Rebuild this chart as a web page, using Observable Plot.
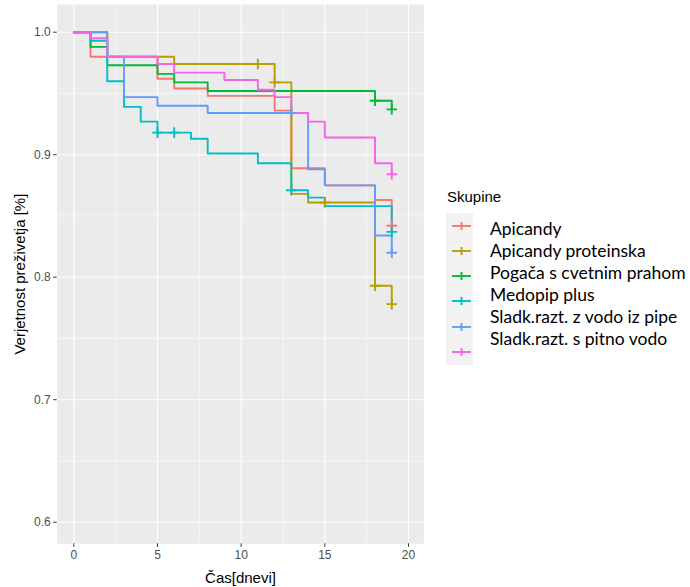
<!DOCTYPE html>
<html><head><meta charset="utf-8">
<script src="https://cdn.jsdelivr.net/npm/d3@7"></script>
<script src="https://cdn.jsdelivr.net/npm/@observablehq/plot@0.6"></script>
<style>
body{margin:0;background:#fff;}
#wrap{position:relative;width:690px;height:587px;overflow:hidden;background:#fff;}
#wrap svg{position:absolute;left:0;top:0;}
.lg{position:absolute;white-space:nowrap;}
</style></head><body><div id="wrap"></div>
<script>
// ---- data ----
const groups = ["Apicandy", "Apicandy proteinska", "Pogača s cvetnim prahom", "Medopip plus", "Sladk.razt. z vodo iz pipe", "Sladk.razt. s pitno vodo"];
const colors = ["#F8766D", "#B79F00", "#00BA38", "#00BFC4", "#619CFF", "#F564E3"];

const timesApicandy = [0, 1, 5, 6, 8, 12, 13, 15, 18, 19];
const survApicandy  = [1, 0.980, 0.962, 0.954, 0.948, 0.936, 0.889, 0.875, 0.863, 0.842];
const censorTimesApicandy = [19];
const censorSurvApicandy  = [0.842];

const timesProteinska = [0, 2, 6, 12, 13, 14, 18, 19];
const survProteinska  = [1, 0.980, 0.974, 0.959, 0.868, 0.861, 0.793, 0.778];
const censorTimesProteinska = [11, 12, 15, 18, 19];
const censorSurvProteinska  = [0.974, 0.959, 0.861, 0.793, 0.778];

const timesPogaca = [0, 1, 2, 5, 6, 8, 18, 19];
const survPogaca  = [1, 0.988, 0.973, 0.966, 0.959, 0.952, 0.944, 0.937];
const censorTimesPogaca = [18, 19];
const censorSurvPogaca  = [0.944, 0.937];

const timesMedopip = [0, 1, 2, 3, 4, 5, 7, 8, 11, 13, 14, 15, 19];
const survMedopip  = [1, 0.993, 0.960, 0.939, 0.927, 0.918, 0.913, 0.901, 0.893, 0.871, 0.865, 0.858, 0.837];
const censorTimesMedopip = [5, 6, 13, 19];
const censorSurvMedopip  = [0.918, 0.918, 0.871, 0.837];

const timesPipe = [0, 2, 3, 5, 8, 14, 15, 18, 19];
const survPipe  = [1, 0.980, 0.947, 0.940, 0.934, 0.888, 0.875, 0.834, 0.820];
const censorTimesPipe = [13, 19];
const censorSurvPipe  = [0.934, 0.820];

const timesPitna = [0, 1, 2, 5, 6, 9, 11, 12, 13, 14, 15, 18, 19];
const survPitna  = [1, 0.995, 0.980, 0.974, 0.967, 0.961, 0.953, 0.947, 0.934, 0.927, 0.914, 0.893, 0.884];
const censorTimesPitna = [19];
const censorSurvPitna  = [0.884];

const xTicks = [0, 5, 10, 15, 20];
const xMinor = [2.5, 7.5, 12.5, 17.5];
const yTicks = [0.6, 0.7, 0.8, 0.9, 1.0];
const yMinor = [0.65, 0.75, 0.85, 0.95];
const xTitle = "Čas[dnevi]";
const yTitle = "Verjetnost preživetja [%]";
const legendTitle = "Skupine";

// ---- build tables ----
const seriesTimes = [timesApicandy, timesProteinska, timesPogaca, timesMedopip, timesPipe, timesPitna];
const seriesSurv = [survApicandy, survProteinska, survPogaca, survMedopip, survPipe, survPitna];
const censTimes = [censorTimesApicandy, censorTimesProteinska, censorTimesPogaca, censorTimesMedopip, censorTimesPipe, censorTimesPitna];
const censSurv = [censorSurvApicandy, censorSurvProteinska, censorSurvPogaca, censorSurvMedopip, censorSurvPipe, censorSurvPitna];

const lineData = groups.map((g, i) => seriesTimes[i].map((t, j) => ({group: g, time: t, surv: seriesSurv[i][j]})));
const censorData = groups.flatMap((g, i) => censTimes[i].map((t, j) => ({group: g, time: t, surv: censSurv[i][j]})));

const font = "'Liberation Sans', Arial, sans-serif";

const plot = Plot.plot({
  width: 690, height: 587,
  marginLeft: 56.7, marginRight: 266.7, marginTop: 4, marginBottom: 43.7,
  style: {fontFamily: font, fontSize: "12px", background: "transparent", overflow: "visible"},
  x: {domain: [-0.992, 20.914], label: null},
  y: {domain: [0.5824, 1.0226], label: null},
  color: {domain: groups, range: colors},
  marks: [
    Plot.frame({fill: "#EBEBEB", stroke: "none"}),
    Plot.ruleX(xMinor, {stroke: "white", strokeWidth: 0.55}),
    Plot.ruleY(yMinor, {stroke: "white", strokeWidth: 0.55}),
    Plot.ruleX(xTicks, {stroke: "white", strokeWidth: 1.1}),
    Plot.ruleY(yTicks, {stroke: "white", strokeWidth: 1.1}),
    ...lineData.map(ld => Plot.line(ld, {x: "time", y: "surv", stroke: "group", curve: "step-after", strokeWidth: 1.9})),
    Plot.dot(censorData, {x: "time", y: "surv", stroke: "group", symbol: "plus", r: 3.5, strokeWidth: 1.9}),
    Plot.axisX({ticks: xTicks, tickSize: 3.5, tickPadding: 3, stroke: "#333333", fill: "#4D4D4D", label: null, fontSize: 12}),
    Plot.axisY({ticks: yTicks, tickSize: 3.5, tickPadding: 3, tickFormat: d3.format(".1f"), stroke: "#333333", fill: "#4D4D4D", label: null, fontSize: 12}),
    Plot.text([xTitle], {text: d => d, frameAnchor: "bottom", lineAnchor: "middle", textAnchor: "middle", dy: 34, fontSize: 15, fill: "black"}),
    Plot.text([yTitle], {text: d => d, frameAnchor: "left", textAnchor: "middle", lineAnchor: "middle", dx: -37, rotate: -90, fontSize: 15, fill: "black"})
  ]
});
const wrap = document.getElementById("wrap");
wrap.appendChild(plot);

// ---- legend ----
const t = document.createElement("div");
t.className = "lg";
t.textContent = legendTitle;
Object.assign(t.style, {left: "447px", top: "189px", font: "15px " + font, lineHeight: "16px", color: "#000"});
wrap.appendChild(t);

const bg = document.createElement("div");
bg.className = "lg";
Object.assign(bg.style, {left: "446px", top: "213px", width: "27px", height: "152px", background: "#F2F2F2"});
wrap.appendChild(bg);

const ns = "http://www.w3.org/2000/svg";
groups.forEach((g, i) => {
  const cy = 225.7 + 25.2 * i;
  const s = document.createElementNS(ns, "svg");
  s.setAttribute("width", 27); s.setAttribute("height", 14);
  s.style.position = "absolute"; s.style.left = "446px"; s.style.top = (cy - 7) + "px";
  const h = document.createElementNS(ns, "line");
  h.setAttribute("x1", 6); h.setAttribute("x2", 25); h.setAttribute("y1", 7); h.setAttribute("y2", 7);
  h.setAttribute("stroke", colors[i]); h.setAttribute("stroke-width", 1.9);
  const v = document.createElementNS(ns, "line");
  v.setAttribute("x1", 15.5); v.setAttribute("x2", 15.5); v.setAttribute("y1", 3); v.setAttribute("y2", 11);
  v.setAttribute("stroke", colors[i]); v.setAttribute("stroke-width", 1.9);
  s.appendChild(h); s.appendChild(v);
  wrap.appendChild(s);

  const lab = document.createElement("div");
  lab.className = "lg";
  lab.textContent = g;
  const ty = 229 + 22 * i;
  Object.assign(lab.style, {left: "490px", top: (ty - 11) + "px", font: "17.5px Lato, 'Open Sans', sans-serif", lineHeight: "22px", color: "#000"});
  wrap.appendChild(lab);
});
</script></body></html>
